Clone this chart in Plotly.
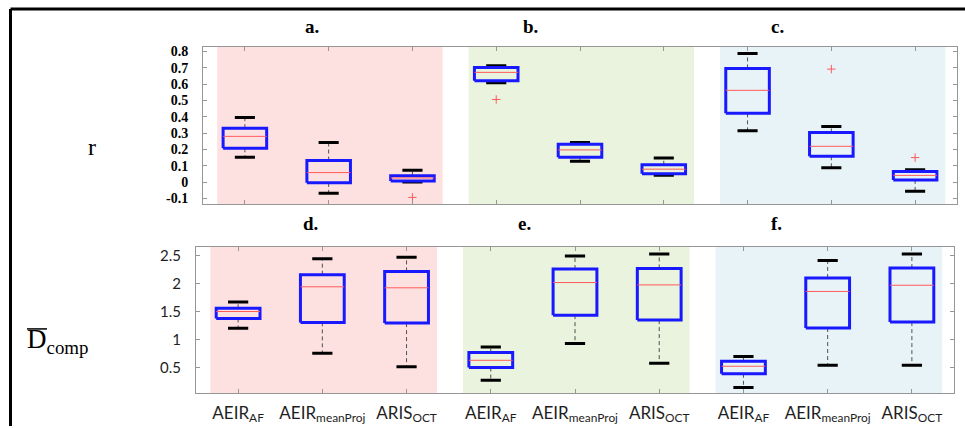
import plotly.graph_objects as go

W, H = 965, 428

# ---------------- data ----------------
groups = ["a.", "b.", "c."]
groups_bottom = ["d.", "e.", "f."]
methods = ["AEIR<sub>AF</sub>", "AEIR<sub>meanProj</sub>", "ARIS<sub>OCT</sub>"]

# r (correlation) – 9 boxes: a(3), b(3), c(3)
r_lo  = [0.152, -0.068, 0.001, 0.609, 0.128, 0.041, 0.314, 0.088, -0.056]
r_q1  = [0.207, -0.005, 0.007, 0.621, 0.152, 0.051, 0.421, 0.158, 0.013]
r_med = [0.280,  0.058, 0.025, 0.672, 0.197, 0.079, 0.562, 0.219, 0.041]
r_q3  = [0.330,  0.132, 0.039, 0.702, 0.231, 0.106, 0.696, 0.304, 0.065]
r_hi  = [0.395,  0.243, 0.072, 0.712, 0.243, 0.148, 0.787, 0.340, 0.075]
r_out_box = [3, 4, 8, 9]
r_out_val = [-0.094, 0.506, 0.692, 0.150]

# D_comp – 9 boxes: d(3), e(3), f(3)
d_lo  = [1.207, 0.760, 0.519, 0.278, 0.936, 0.583, 0.149, 0.547, 0.547]
d_q1  = [1.383, 1.313, 1.300, 0.507, 1.442, 1.354, 0.396, 1.212, 1.318]
d_med = [1.507, 1.948, 1.930, 0.636, 2.024, 1.982, 0.530, 1.865, 1.976]
d_q3  = [1.565, 2.165, 2.223, 0.777, 2.265, 2.276, 0.618, 2.106, 2.283]
d_hi  = [1.676, 2.447, 2.477, 0.872, 2.500, 2.535, 0.706, 2.417, 2.535]

r_ticks = [-0.1, 0, 0.1, 0.2, 0.3, 0.4, 0.5, 0.6, 0.7, 0.8]
r_ticktext = ["-0.1", "0", "0.1", "0.2", "0.3", "0.4", "0.5", "0.6", "0.7", "0.8"]
d_ticks = [0.5, 1, 1.5, 2, 2.5]
d_ticktext = ["0.5", "1", "1.5", "2", "2.5"]

region_colors = ["rgb(253,225,225)", "rgb(233,243,222)", "rgb(232,243,248)"]

# ---------------- style ----------------
BOX_HW = 0.26
CAP_HW = 0.12
BLUE = "rgb(25,25,255)"
RED = "rgb(255,90,90)"
letter_x_top = [303, 530, 786]
letter_x_bot = [301, 524, 784]

fig = go.Figure()


def add_boxes(lo, q1, med, q3, hi, xa, ya):
    n = len(med)
    pos = list(range(1, n + 1))
    bx, by, mx, my, wx, wy, cx, cy = [], [], [], [], [], [], [], []
    for p, a, b, m, c, d in zip(pos, lo, q1, med, q3, hi):
        bx += [p - BOX_HW, p + BOX_HW, p + BOX_HW, p - BOX_HW, p - BOX_HW, None]
        by += [b, b, c, c, b, None]
        mx += [p - BOX_HW, p + BOX_HW, None]
        my += [m, m, None]
        wx += [p, p, None, p, p, None]
        wy += [c, d, None, b, a, None]
        cx += [p - CAP_HW, p + CAP_HW, None, p - CAP_HW, p + CAP_HW, None]
        cy += [d, d, None, a, a, None]
    common = dict(xaxis=xa, yaxis=ya, mode="lines", hoverinfo="skip", showlegend=False)
    fig.add_trace(go.Scatter(x=wx, y=wy, line=dict(color="rgb(80,80,80)", width=1, dash="4px,3px"), **common))
    fig.add_trace(go.Scatter(x=cx, y=cy, line=dict(color="black", width=3), **common))
    fig.add_trace(go.Scatter(x=bx, y=by, line=dict(color=BLUE, width=3), **common))
    fig.add_trace(go.Scatter(x=mx, y=my, line=dict(color=RED, width=1), **common))


add_boxes(r_lo, r_q1, r_med, r_q3, r_hi, "x", "y")
add_boxes(d_lo, d_q1, d_med, d_q3, d_hi, "x2", "y2")

fig.add_trace(go.Scatter(x=r_out_box, y=r_out_val, xaxis="x", yaxis="y", mode="markers",
                         marker=dict(symbol="cross-thin", size=6, line=dict(color=RED, width=1)),
                         hoverinfo="skip", showlegend=False))

shapes = []
for g in range(3):
    center = 3 * g + 2
    for xr, yr in (("x", "y domain"), ("x2", "y2 domain")):
        shapes.append(dict(type="rect", xref=xr, yref=yr, x0=center - 1.33, x1=center + 1.36,
                           y0=0, y1=1, fillcolor=region_colors[g], line=dict(width=0), layer="below"))

# outer black frame (left and top)
shapes.append(dict(type="line", xref="paper", yref="paper", x0=10.5 / W, x1=10.5 / W,
                   y0=0, y1=1 - 7 / H, line=dict(color="black", width=3)))
shapes.append(dict(type="line", xref="paper", yref="paper", x0=10.5 / W, x1=1,
                   y0=1 - 7 / H, y1=1 - 7 / H, line=dict(color="black", width=3)))
# overline on D
shapes.append(dict(type="line", xref="paper", yref="paper", x0=27 / W, x1=47 / W,
                   y0=1 - 330 / H, y1=1 - 330 / H, line=dict(color="black", width=1.5)))

annotations = []
for g in range(3):
    annotations.append(dict(text="<b>" + groups[g] + "</b>", xref="paper", yref="paper",
                            x=letter_x_top[g] / W, y=1 - 12 / H, yanchor="top", showarrow=False,
                            font=dict(family="Liberation Serif", size=19, color="black")))
    annotations.append(dict(text="<b>" + groups_bottom[g] + "</b>", xref="paper", yref="paper",
                            x=letter_x_bot[g] / W, y=1 - 224 / H, showarrow=False,
                            font=dict(family="Liberation Serif", size=19, color="black")))
annotations.append(dict(text="r", xref="paper", yref="paper", x=86 / W, y=1 - 146 / H, showarrow=False,
                        font=dict(family="Liberation Serif", size=24, color="black")))
annotations.append(dict(text="D<sub>comp</sub>", xref="paper", yref="paper", x=25 / W, y=1 - 361 / H,
                        xanchor="left", showarrow=False,
                        font=dict(family="Liberation Serif", size=27, color="black")))

axis_common = dict(showline=True, linecolor="rgb(150,150,150)", linewidth=1, mirror="ticks",
                   ticks="inside", ticklen=4, tickcolor="rgb(150,150,150)", showgrid=False,
                   zeroline=False, range=[0.5, 9.5], tickvals=list(range(1, 10)))

fig.update_layout(
    width=W, height=H, margin=dict(l=0, r=0, t=0, b=0),
    paper_bgcolor="white", plot_bgcolor="white",
    xaxis=dict(domain=[203 / W, 957 / W], anchor="y", showticklabels=False, **axis_common),
    xaxis2=dict(domain=[196 / W, 954 / W], anchor="y2",
                ticktext=[methods[i % 3] for i in range(9)], ticklabelstandoff=4,
                tickfont=dict(family="Lato", size=17, color="rgb(30,30,30)"),
                **axis_common),
    yaxis=dict(domain=[1 - 204 / H, 1 - 45 / H], anchor="x", range=[-0.135, 0.83],
               tickvals=r_ticks, ticktext=r_ticktext, showline=True, linecolor="rgb(150,150,150)",
               mirror="ticks", ticks="inside", ticklen=4, tickcolor="rgb(150,150,150)",
               showgrid=False, zeroline=False, ticklabelstandoff=11,
               tickfont=dict(family="Liberation Serif", size=14, color="black", weight="bold")),
    yaxis2=dict(domain=[1 - 395 / H, 1 - 247 / H], anchor="x2", range=[0.047, 2.664],
                tickvals=d_ticks, ticktext=d_ticktext, showline=True, linecolor="rgb(150,150,150)",
                mirror="ticks", ticks="inside", ticklen=4, tickcolor="rgb(150,150,150)",
                showgrid=False, zeroline=False, ticklabelstandoff=11,
                tickfont=dict(family="Lato", size=15, color="rgb(30,30,30)")),
    shapes=shapes, annotations=annotations,
)

fig.write_html("out.html", config={"displayModeBar": False},
               post_script="document.body.style.margin='0px';")
